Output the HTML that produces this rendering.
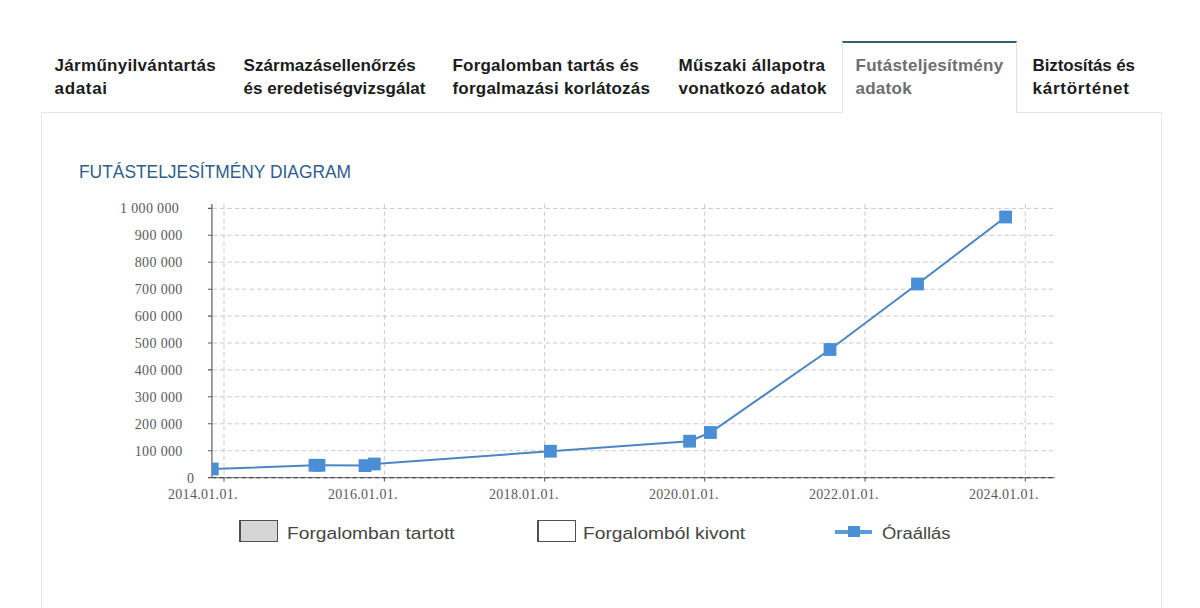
<!DOCTYPE html>
<html><head><meta charset="utf-8">
<style>
html,body{margin:0;padding:0;background:#fff;}
body{width:1200px;height:608px;overflow:hidden;position:relative;font-family:"Liberation Sans",sans-serif;}
.t{position:absolute;white-space:nowrap;}
.tab{font-weight:bold;font-size:17px;line-height:23px;color:#1c1c1c;}
.active{color:#6e6e6e;}
#panel{position:absolute;left:41px;top:112px;width:1119px;height:520px;border:1px solid #e8e8e8;background:#fff;}
#atab{position:absolute;left:842px;top:41px;width:175px;height:72px;border-left:1px solid #e2e2e2;border-right:1px solid #e2e2e2;border-top:2px solid #375f72;background:#fff;box-sizing:border-box;}
#title{font-size:19px;line-height:22px;color:#2f5e8b;transform-origin:0 0;transform:scaleX(0.915);}
.yl{font-family:"Liberation Serif",serif;font-size:14px;color:#5a5a5a;line-height:16px;letter-spacing:0.35px;margin-top:1px;}
.xl{font-family:"Liberation Serif",serif;font-size:14px;color:#5a5a5a;line-height:16px;letter-spacing:0.3px;margin-top:1px;}
.lg{font-size:16px;line-height:20px;color:#454545;transform-origin:0 0;transform:scaleX(1.2);margin-top:2px;}
</style></head><body>
<div id="panel"></div>
<div id="atab"></div>

<div class="t tab" style="left:54.5px;top:54px;"><span style="letter-spacing:0.31px">Járműnyilvántartás</span><br><span style="letter-spacing:0.68px">adatai</span></div>
<div class="t tab" style="left:243.5px;top:54px;"><span style="letter-spacing:0.06px">Származásellenőrzés</span><br><span style="letter-spacing:0.07px">és eredetiségvizsgálat</span></div>
<div class="t tab" style="left:452.5px;top:54px;"><span style="letter-spacing:0.2px">Forgalomban tartás és</span><br><span style="letter-spacing:0.21px">forgalmazási korlátozás</span></div>
<div class="t tab" style="left:678.5px;top:54px;"><span style="letter-spacing:0.3px">Műszaki állapotra</span><br><span style="letter-spacing:0.3px">vonatkozó adatok</span></div>
<div class="t tab active" style="left:855.5px;top:54px;"><span style="letter-spacing:0.25px">Futásteljesítmény</span><br><span style="letter-spacing:0.26px">adatok</span></div>
<div class="t tab" style="left:1032.5px;top:54px;"><span style="letter-spacing:-0.12px">Biztosítás és</span><br><span style="letter-spacing:0.76px">kártörténet</span></div>

<div class="t" id="title" style="left:79px;top:160.5px;">FUTÁSTELJESÍTMÉNY DIAGRAM</div>

<svg style="position:absolute;left:0;top:0;" width="1200" height="608" viewBox="0 0 1200 608">
  <defs><clipPath id="pc"><rect x="212" y="200" width="843" height="277.6"/></clipPath></defs>
  <g stroke="#c9c9c9" stroke-width="1" stroke-dasharray="4.4,3" fill="none">
    <path d="M212 208.4H1055M212 235.3H1055M212 262.2H1055M212 289.2H1055M212 316.1H1055M212 343.0H1055M212 369.9H1055M212 396.8H1055M212 423.8H1055M212 450.7H1055" stroke-dashoffset="-0.6"/>
    <path d="M224.0 204V477M384.4 204V477M544.6 204V477M704.7 204V477M865.1 204V477M1025.3 204V477"/>
  </g>
  <path d="M212 477.6H1055" stroke="#8a8a8a" stroke-width="1.2" fill="none"/>
  <path d="M212 477.6H1055" stroke="#4a4a4a" stroke-width="1.2" stroke-dasharray="4.4,3" fill="none"/>
  <path d="M211.9 204V478" stroke="#858585" stroke-width="1.6" fill="none"/>
  <g stroke="#5a5a5a" stroke-width="1.1" fill="none">
    <path d="M208 208.4H212M208 235.3H212M208 262.2H212M208 289.2H212M208 316.1H212M208 343.0H212M208 369.9H212M208 396.8H212M208 423.8H212M208 450.7H212M208 477.6H212"/>
    <path d="M224.0 477.6V481.5M384.4 477.6V481.5M544.6 477.6V481.5M704.7 477.6V481.5M865.1 477.6V481.5M1025.3 477.6V481.5"/>
  </g>
  <g clip-path="url(#pc)">
    <polyline points="212.3,469 315,465.3 319,465.3 365,465.6 374.3,464 550.4,451.2 689.6,441.2 710.4,432.5 830,349.5 917.5,284 1005.6,217" fill="none" stroke="#4c86c0" stroke-width="2"/>
    <g fill="#4a8fd6">
      <rect x="205.9" y="462.6" width="12.8" height="12.8"/>
      <rect x="308.6" y="458.9" width="12.8" height="12.8"/>
      <rect x="312.6" y="458.9" width="12.8" height="12.8"/>
      <rect x="358.6" y="459.2" width="12.8" height="12.8"/>
      <rect x="367.9" y="457.6" width="12.8" height="12.8"/>
      <rect x="544.0" y="444.8" width="12.8" height="12.8"/>
      <rect x="683.2" y="434.8" width="12.8" height="12.8"/>
      <rect x="704.0" y="426.1" width="12.8" height="12.8"/>
      <rect x="823.6" y="343.1" width="12.8" height="12.8"/>
      <rect x="911.1" y="277.6" width="12.8" height="12.8"/>
      <rect x="999.2" y="210.6" width="12.8" height="12.8"/>
    </g>
  </g>
</svg>

<div class="t yl" style="left:120px;top:200px;">1 000 000</div>
<div class="t yl" style="right:1017.3px;top:227px;">900 000</div>
<div class="t yl" style="right:1017.3px;top:254px;">800 000</div>
<div class="t yl" style="right:1017.3px;top:281px;">700 000</div>
<div class="t yl" style="right:1017.3px;top:308px;">600 000</div>
<div class="t yl" style="right:1017.3px;top:335px;">500 000</div>
<div class="t yl" style="right:1017.3px;top:362px;">400 000</div>
<div class="t yl" style="right:1017.3px;top:389px;">300 000</div>
<div class="t yl" style="right:1017.3px;top:416px;">200 000</div>
<div class="t yl" style="right:1017.3px;top:443px;">100 000</div>
<div class="t yl" style="left:187px;top:470px;">0</div>

<div class="t xl" style="left:168px;top:486px;">2014.01.01.</div>
<div class="t xl" style="left:328px;top:486px;">2016.01.01.</div>
<div class="t xl" style="left:489px;top:486px;">2018.01.01.</div>
<div class="t xl" style="left:649px;top:486px;">2020.01.01.</div>
<div class="t xl" style="left:809px;top:486px;">2022.01.01.</div>
<div class="t xl" style="left:969px;top:486px;">2024.01.01.</div>

<div style="position:absolute;left:239px;top:520px;width:35.5px;height:20px;border:1.5px solid #505050;border-left-width:2px;background:#d6d6d6;"></div>
<div class="t lg" style="left:287px;top:522px;">Forgalomban tartott</div>
<div style="position:absolute;left:537px;top:520px;width:35.5px;height:20px;border:1.5px solid #505050;border-left-width:2px;background:#fff;"></div>
<div class="t lg" style="left:583px;top:522px;">Forgalomból kivont</div>
<div style="position:absolute;left:835px;top:529.5px;width:37px;height:4px;background:#5b9bd5;"></div>
<div style="position:absolute;left:848px;top:526px;width:11.5px;height:11px;background:#4a8fd6;"></div>
<div class="t lg" style="left:882px;top:522px;transform:scaleX(1.15);">Óraállás</div>
</body></html>
